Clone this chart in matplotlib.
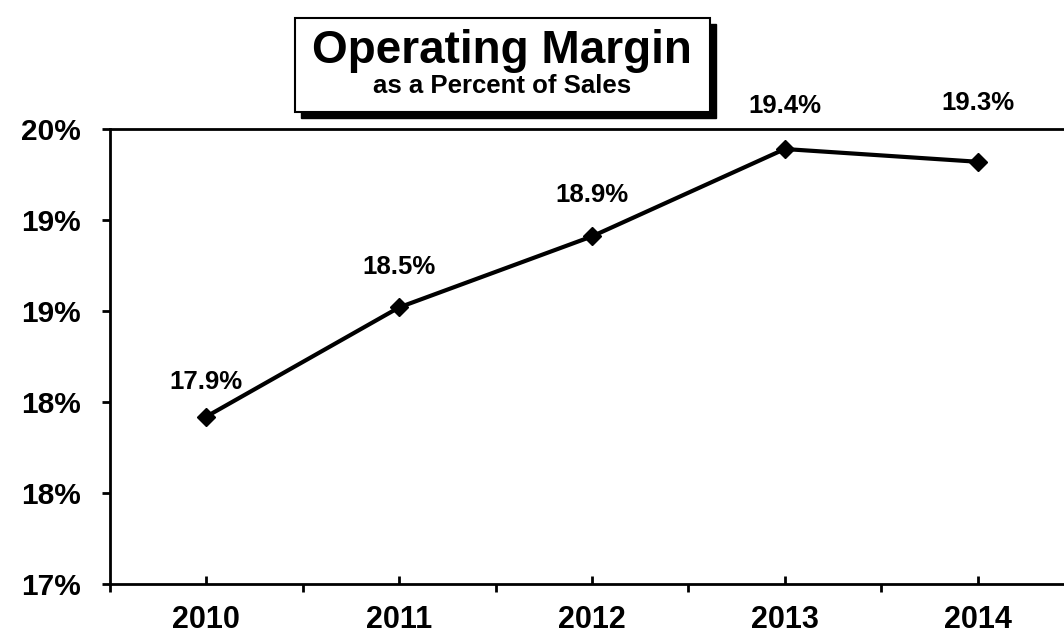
import matplotlib.pyplot as plt
from matplotlib.patches import Rectangle

# data
years = ['2010', '2011', '2012', '2013', '2014']
margin = [17.92, 18.52, 18.91, 19.39, 19.32]
point_labels = ['17.9%', '18.5%', '18.9%', '19.4%', '19.3%']
y_ticks = [17.0, 17.5, 18.0, 18.5, 19.0, 19.5]
y_tick_labels = ['17%', '18%', '18%', '19%', '19%', '20%']

# how far above each point its label sits (points)
label_offsets = [25, 29, 30, 31, 42]

plt.rcParams['font.family'] = ['Liberation Sans', 'DejaVu Sans']
plt.rcParams['font.weight'] = 'bold'

fig = plt.figure(figsize=(10.64, 6.34), dpi=100)
ax = fig.add_axes([110 / 1064, 50 / 634, 964 / 1064, 455 / 634])

x = range(len(years))
ax.plot(x, margin, color='black', linewidth=3, marker='D', markersize=9)

#data labels above each point
for i, lab in enumerate(point_labels):
    ax.annotate(lab, (i, margin[i]), xytext=(0, label_offsets[i]), textcoords='offset points',
                ha='center', va='center', fontsize=18.5, fontweight='bold',
                annotation_clip=False)

ax.set_xlim(-0.5, len(years) - 0.5)
ax.set_ylim(y_ticks[0], y_ticks[-1])

#y axis
ax.set_yticks(y_ticks, y_tick_labels)
ax.tick_params(axis='y', direction='out', length=6, width=2, pad=15, labelsize=21.5)

#x axis: outward ticks between categories, inward ticks at the categories
ax.set_xticks([i - 0.5 for i in range(len(years) + 1)], [''] * (len(years) + 1))
ax.set_xticks(list(x), years, minor=True)
ax.tick_params(axis='x', which='major', direction='out', length=6, width=2)
ax.tick_params(axis='x', which='minor', direction='in', length=6, width=2,
               pad=15, labelsize=22)

for side in ['left', 'bottom', 'top']:
    ax.spines[side].set_linewidth(2)
ax.spines['right'].set_visible(False)

#title box with shadow
bx, by, bw, bh = 295 / 1064, 1 - 112 / 634, 415 / 1064, 94 / 634
fig.patches.append(Rectangle((bx + 6 / 1064, by - 6 / 634), bw, bh, transform=fig.transFigure,
                             facecolor='black', edgecolor='black', zorder=1))
fig.patches.append(Rectangle((bx, by), bw, bh, transform=fig.transFigure,
                             facecolor='white', edgecolor='black', linewidth=1.5, zorder=2))
fig.text(502 / 1064, 1 - 63 / 634, 'Operating Margin', ha='center', va='baseline',
         fontsize=33, fontweight='bold', zorder=3)
fig.text(502 / 1064, 1 - 93 / 634, 'as a Percent of Sales', ha='center', va='baseline',
         fontsize=18.5, fontweight='bold', zorder=3)

plt.savefig('out.png', dpi=100)
